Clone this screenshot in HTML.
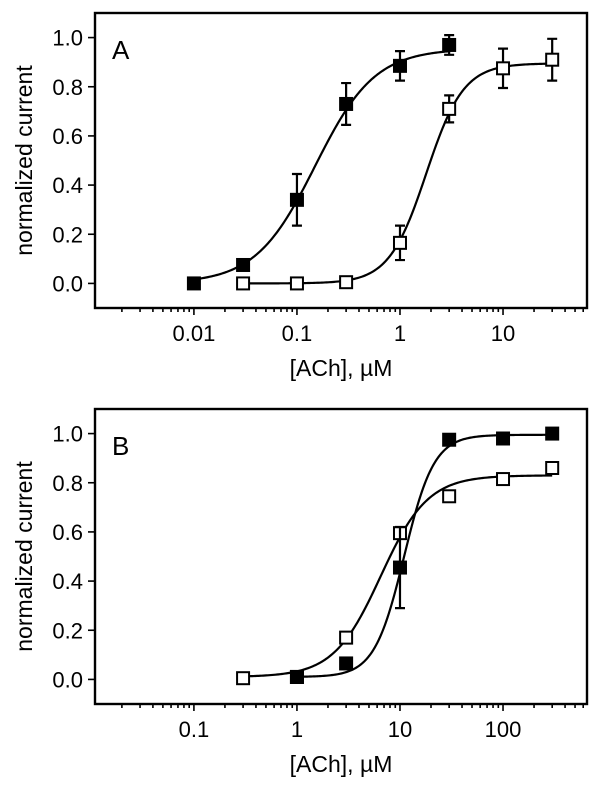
<!DOCTYPE html>
<html><head><meta charset="utf-8"><style>
body{margin:0;background:#fff;}
svg{display:block;font-family:"Liberation Sans",Arial,sans-serif;}
</style></head><body>
<svg id="fig" width="600" height="789" viewBox="0 0 600 789"></svg>
<script>
// Panel A data
const aFilledX=[0.01,0.03,0.1,0.3,1,3];
const aFilledY=[0,0.075,0.34,0.73,0.885,0.97];
const aFilledErr=[0,0.01,0.105,0.085,0.06,0.04];
const aOpenX=[0.03,0.1,0.3,1,3,10,30];
const aOpenY=[0,0,0.005,0.165,0.71,0.875,0.91];
const aOpenErr=[0,0,0.01,0.07,0.055,0.08,0.085];
const aFilledFit=[0,0.955,0.15,1.5];
const aOpenFit=[0,0.895,1.8,2.4];
const aTicks=[0.01,0.1,1,10];
const aTickLabels=["0.01","0.1","1","10"];
// Panel B data
const bFilledX=[1,3,10,30,100,300];
const bFilledY=[0.01,0.065,0.455,0.975,0.98,1.0];
const bFilledErr=[0.01,0.012,0.165,0.012,0.015,0.012];
const bOpenX=[0.3,1,3,10,30,100,300];
const bOpenY=[0.005,0.01,0.17,0.595,0.745,0.815,0.86];
const bOpenErr=[0,0.01,0.015,0.012,0.015,0.012,0.012];
const bFilledFit=[0.01,0.995,11,3];
const bOpenFit=[0.01,0.83,6.5,1.9];
const bTicks=[0.1,1,10,100];
const bTickLabels=["0.1","1","10","100"];
const yTicks=[0,0.2,0.4,0.6,0.8,1.0];
const yTickLabels=["0.0","0.2","0.4","0.6","0.8","1.0"];

const NS="http://www.w3.org/2000/svg";
const svg=document.getElementById('fig');
function mk(tag,attrs,parent){const e=document.createElementNS(NS,tag);for(const k in attrs)e.setAttribute(k,attrs[k]);(parent||svg).appendChild(e);return e;}

function panel(o){
  const g=mk('g',{});
  
  
  const L=95,R=587,T=o.top,B=o.top+295;
  const lx0=o.logMin,lx1=o.logMin+4.775;
  const sx=v=>L+(Math.log10(v)-lx0)/(lx1-lx0)*(R-L);
  const sy=v=>B-(v+0.1)/1.2*(B-T);
  const box=mk('rect',{x:L,y:T,width:R-L,height:B-T,fill:'none',stroke:'#000','stroke-width':2.4},g);
  
  
  for(let d=Math.floor(lx0);d<=Math.ceil(lx1);d++){
    for(let m=1;m<10;m++){
      const v=m*Math.pow(10,d);const lv=Math.log10(v);
      if(lv<lx0||lv>lx1)continue;
      const x=sx(v);
      const t=mk('line',{x1:x,x2:x,y1:B,y2:B+(m===1?7:4),stroke:'#000','stroke-width':1.6},g);
      
      
    }
  }
  o.xt.forEach((v,i)=>{
    const t=mk('text',{x:sx(v),y:B+33,'font-size':22,'text-anchor':'middle',fill:'#000'},g);
    t.textContent=o.xl[i];
    
    
  });
  yTicks.forEach((v,i)=>{
    const y=sy(v);
    const t=mk('line',{x1:L-7,x2:L,y1:y,y2:y,stroke:'#000','stroke-width':1.6},g);
    
    
    const tl=mk('text',{x:L-12,y:y+8,'font-size':22,'text-anchor':'end',fill:'#000'},g);
    tl.textContent=yTickLabels[i];
    
    
  });
  const xt=mk('text',{x:341,y:B+68,'font-size':23,'text-anchor':'middle',fill:'#000'},g);
  xt.textContent='[ACh], µM';
  
  
  const cy=(T+B)/2;
  const yt=mk('text',{x:0,y:0,'font-size':23,'text-anchor':'middle',fill:'#000',transform:`translate(32,${cy}) rotate(-90)`},g);
  yt.textContent='normalized current';
  
  
  const pl=mk('text',{x:112,y:T+46,'font-size':26,fill:'#000'},g);
  pl.textContent=o.label;
  
  
  o.series.forEach(s=>{
    const [b0,top,ec,n]=s.fit;
    const a=Math.log10(s.x[0]),z=Math.log10(s.x[s.x.length-1]);
    let d='';
    for(let i=0;i<=200;i++){
      const lv=a+(z-a)*i/200;const v=Math.pow(10,lv);
      const y=b0+(top-b0)/(1+Math.pow(ec/v,n));
      d+=(i?'L':'M')+sx(v).toFixed(2)+','+sy(y).toFixed(2);
    }
    const c=mk('path',{d:d,fill:'none',stroke:'#000','stroke-width':2.2},g);
    
    
    s.x.forEach((v,i)=>{
      const x=sx(v),y=sy(s.y[i]),e=s.err[i];
      if(e>0.015){
        const y1=sy(s.y[i]+e),y2=sy(s.y[i]-e);
        const eb=mk('path',{d:`M${x},${y1}L${x},${y2}M${x-5},${y1}L${x+5},${y1}M${x-5},${y2}L${x+5},${y2}`,stroke:'#000','stroke-width':2.2,fill:'none'},g);
        
        
      }
      let m;
      if(s.filled) m=mk('rect',{x:x-7,y:y-7,width:14,height:14,fill:'#000'},g);
      else m=mk('rect',{x:x-6,y:y-6,width:12,height:12,fill:'#fff',stroke:'#000','stroke-width':2},g);
      
      
    });
  });
}
panel({name:'panel-a',top:13,logMin:-2.96,xt:aTicks,xl:aTickLabels,label:'A',series:[
  {name:'open-series',x:aOpenX,y:aOpenY,err:aOpenErr,fit:aOpenFit,filled:false},
  {name:'filled-series',x:aFilledX,y:aFilledY,err:aFilledErr,fit:aFilledFit,filled:true}]});
panel({name:'panel-b',top:409,logMin:-1.96,xt:bTicks,xl:bTickLabels,label:'B',series:[
  {name:'open-series',x:bOpenX,y:bOpenY,err:bOpenErr,fit:bOpenFit,filled:false},
  {name:'filled-series',x:bFilledX,y:bFilledY,err:bFilledErr,fit:bFilledFit,filled:true}]});
</script>
</body></html>
